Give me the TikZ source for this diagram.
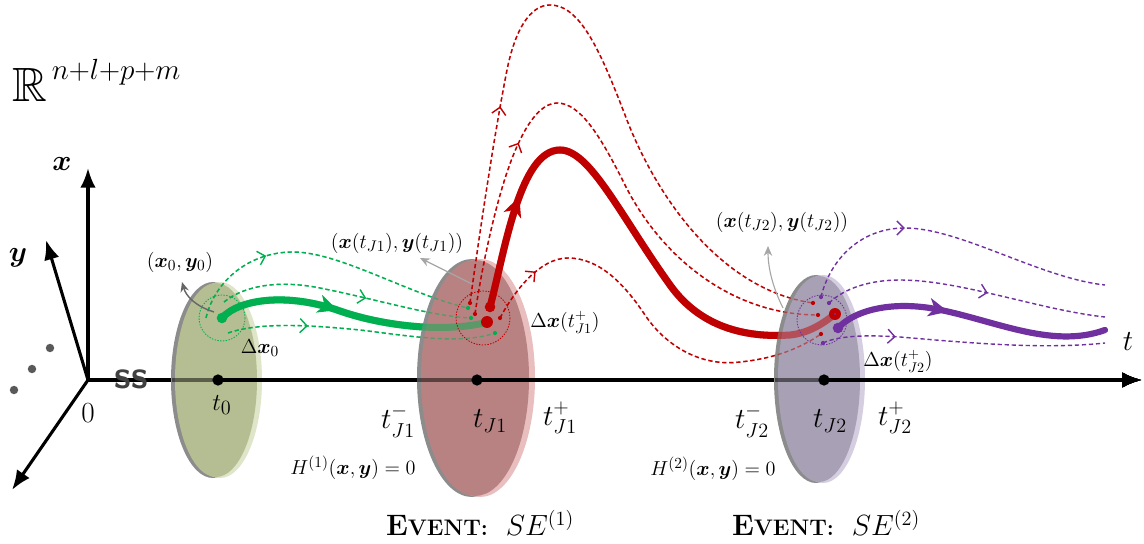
\documentclass[tikz,border=0pt]{standalone}
\usepackage{amsmath,amssymb,bm,graphicx}
\usetikzlibrary{arrows.meta,decorations.markings}
\definecolor{cgreen}{RGB}{0,176,80}
\definecolor{cred}{RGB}{192,0,0}
\definecolor{cpurple}{RGB}{112,48,160}
\definecolor{edgegray}{RGB}{140,140,140}
\definecolor{gMain}{RGB}{181,190,146}
\definecolor{gLight}{RGB}{222,229,200}
\definecolor{rMain}{RGB}{185,130,130}
\definecolor{rLight}{RGB}{232,190,190}
\definecolor{pMain}{RGB}{168,160,180}
\definecolor{pLight}{RGB}{212,206,224}
% trajectory paths (reused for the faded pass behind each disc)
\newcommand\PathGthick{(g0) .. controls (240,298) and (290,293) .. (340,311) .. controls (380,325) and (440,333) .. (484,323)}
\newcommand\PathGa{(206,318) .. controls (215,280) and (250,252) .. (293,252) .. controls (340,252) and (410,295) .. (gA)}
\newcommand\PathGb{(224,302) .. controls (245,285) and (280,280) .. (320,288) .. controls (380,300) and (430,316) .. (gB)}
\newcommand\PathGc{(228,333) .. controls (260,322) and (310,325) .. (360,330) .. controls (410,336) and (460,345) .. (gC)}
\newcommand\PathRthick{(rS) .. controls (505,250) and (520,150) .. (560,150) .. controls (590,150) and (620,215) .. (670,285) .. controls (700,327) and (745,338) .. (790,335) .. controls (810,333) and (825,322) .. (rE)}
\newcommand\PathRa{(rA) .. controls (480,230) and (495,130) .. (507,70) .. controls (515,30) and (530,5) .. (550,5) .. controls (580,5) and (600,50) .. (625,115) .. controls (655,195) and (720,290) .. (rA2)}
\newcommand\PathRb{(rB) .. controls (483,260) and (500,180) .. (520,140) .. controls (532,115) and (545,103) .. (557,103) .. controls (580,103) and (600,135) .. (625,185) .. controls (660,255) and (730,315) .. (rB2)}
\newcommand\PathRc{(rC) .. controls (515,290) and (540,258) .. (568,258) .. controls (600,258) and (625,285) .. (645,315) .. controls (665,345) and (700,367) .. (740,362) .. controls (780,358) and (805,345) .. (rC2)}
\begin{document}
\begin{tikzpicture}[x=0.025cm,y=-0.025cm,
  axisarrow/.style={line width=2.2pt,-{Latex[length=14pt,width=11pt]}},
  taxis/.style={line width=2.2pt,-{Latex[length=14pt,width=11pt]}},
  axfade/.style={line width=2.2pt,opacity=0.5},
  thick traj/.style={line width=5pt,line cap=round},
  dtraj/.style={line width=1pt,dash pattern=on 3pt off 2pt},
  faded/.style={opacity=0.5},
  midarrow/.style={postaction={decorate},decoration={markings,mark=at position #1 with {\arrow{Stealth[length=14pt,width=13pt,inset=4pt]}}}},
  dmid/.style={postaction={decorate},decoration={markings,mark=at position #1 with {\arrow{Straight Barb[length=5pt,width=10pt]}}}},
  dotcircle/.style={line width=0.6pt,dash pattern=on 1pt off 1pt},
  bigdot/.style={circle,fill,inner sep=0pt,minimum size=8.5pt},
  startdot/.style={circle,fill,inner sep=0pt,minimum size=7.5pt},
  smalldot/.style={circle,fill,inner sep=0pt,minimum size=3pt},
  axdot/.style={circle,fill=black,inner sep=0pt,minimum size=8pt},
  gdot/.style={circle,fill=black!65,inner sep=0pt,minimum size=6pt},
  ptrD/.style={black!60,line width=1pt,-{Stealth[length=7pt,width=6pt]}},
  ptrL/.style={black!35,line width=0.8pt,-{Stealth[length=7pt,width=6pt]}},
  medlab/.style={font=\fontsize{15}{18}\selectfont,inner sep=0pt},
  smlab/.style={font=\fontsize{14}{17}\selectfont,inner sep=0pt},
  biglab/.style={font=\fontsize{21}{25}\selectfont,inner sep=0pt},
  evlab/.style={font=\fontsize{21}{25}\selectfont,inner sep=0pt},
  sbreak/.style={font=\fontsize{28}{28}\selectfont\sffamily\bfseries,text=black!75,inner sep=0pt}
]
\useasboundingbox (0,0) rectangle (1144,544);

% ---------- axes ----------
\coordinate (O) at (88,380);
\coordinate (xT) at (88,168);
\coordinate (yT) at (46,240);
\coordinate (zT) at (12,490);
\coordinate (tT) at (1142,380);
\coordinate (t0) at (218,380);
\coordinate (tJ1) at (477,380);
\coordinate (tJ2) at (824,380);
\coordinate (e1) at (172,380);
\coordinate (e2) at (417,380);
\coordinate (e3) at (775,380);
\draw[axisarrow] (O) -- (xT);
\draw[axisarrow] (O) -- (yT);
\draw[axisarrow] (O) -- (zT);
\draw[taxis] (O) -- (tT);
\node[gdot] (dA) at (50,348) {};
\node[gdot] (dB) at (32,369) {};
\node[gdot] (dC) at (14,390) {};

\node[inner sep=0pt,anchor=west,font=\fontsize{29}{32}\selectfont] (Rlab) at (12,80) {$\scalebox{1.18}{$\mathbb{R}$}^{\,n+l+p+m}$};
\node[inner sep=0pt,font=\fontsize{22}{26}\selectfont] (xlab) at (62,164) {$\bm{x}$};
\node[inner sep=0pt,font=\fontsize{22}{26}\selectfont] (ylab) at (18,258) {$\bm{y}$};
\node[inner sep=0pt,font=\fontsize{21}{25}\selectfont] (zero) at (88,413) {$0$};
\node[inner sep=0pt,font=\fontsize{21}{25}\selectfont] (tlab) at (1128,342) {$t$};

% ---------- disk 1 ----------
\fill[edgegray] (213,380) ellipse [x radius=42,y radius=98];
\fill[gLight] (220,380) ellipse [x radius=42,y radius=98];
\fill[gMain] (216,380) ellipse [x radius=41,y radius=97];
\draw[axfade] (e1) -- (t0);
\draw[taxis] (t0) -- (tT);

% ---------- green trajectories ----------
\coordinate (g0) at (222,318);
\coordinate (gA) at (468,308);
\coordinate (gB) at (471,318);
\coordinate (gC) at (495,333);
\draw[cgreen,dotcircle] (g0) circle [radius=23];
\draw[cgreen,dtraj,dmid=0.3] \PathGa;
\draw[cgreen,dtraj,dmid=0.58] \PathGb;
\draw[cgreen,dtraj,dmid=0.3] \PathGc;
\draw[cgreen,thick traj,midarrow=0.45] \PathGthick;

% ---------- disk 2 ----------
\fill[edgegray] (472,378) ellipse [x radius=55,y radius=119];
\fill[rLight] (480,378) ellipse [x radius=55,y radius=119];
\fill[rMain] (475,378) ellipse [x radius=54,y radius=118];
\draw[axfade] (e2) -- (tJ1);
\draw[taxis] (tJ1) -- (tT);
\begin{scope}[faded]
\draw[cgreen,dtraj] \PathGa;
\draw[cgreen,dtraj] \PathGb;
\draw[cgreen,dtraj] \PathGc;
\draw[cgreen,thick traj] \PathGthick;
\end{scope}

% ---------- red trajectories ----------
\coordinate (rS) at (490,307);
\coordinate (rD) at (487,322);
\coordinate (rA) at (470,303);
\coordinate (rB) at (475,314);
\coordinate (rC) at (500,318);
\coordinate (rA2) at (813,303);
\coordinate (rB2) at (818,315);
\coordinate (rC2) at (821,334);
\coordinate (rE) at (835,314);
\draw[cred,dotcircle] (483,318) circle [radius=27];
\draw[cred,dtraj,dmid=0.27] \PathRa;
\draw[cred,dtraj,dmid=0.3] \PathRb;
\draw[cred,dtraj,dmid=0.15] \PathRc;
\draw[cred,thick traj,midarrow=0.21] \PathRthick;

% ---------- disk 3 ----------
\fill[edgegray] (816,379) ellipse [x radius=42,y radius=104];
\fill[pLight] (823,379) ellipse [x radius=42,y radius=104];
\fill[pMain] (819,379) ellipse [x radius=41,y radius=103];
\draw[axfade] (e3) -- (tJ2);
\draw[taxis] (tJ2) -- (tT);
\begin{scope}[faded]
\draw[cred,dtraj] \PathRa;
\draw[cred,dtraj] \PathRb;
\draw[cred,dtraj] \PathRc;
\draw[cred,thick traj] \PathRthick;
\end{scope}

% ---------- purple trajectories ----------
\coordinate (pA) at (821,297);
\coordinate (pB) at (829,303);
\coordinate (pC) at (823,343);
\coordinate (pS) at (838,328);
\draw[cpurple,dotcircle] (822,320) circle [radius=25];
\draw[cpurple,dtraj,dmid=0.36] (pA) .. controls (830,260) and (860,228) .. (905,228) .. controls (960,228) and (1040,278) .. (1105,285);
\draw[cpurple,dtraj,dmid=0.58] (pB) .. controls (845,288) and (870,280) .. (900,280) .. controls (960,280) and (1040,310) .. (1105,317);
\draw[cpurple,dtraj,dmid=0.26] (pC) .. controls (840,335) and (870,335) .. (900,337) .. controls (960,342) and (1040,350) .. (1105,343);
\draw[cpurple,line width=4.4pt,line cap=round,midarrow=0.42] (pS) .. controls (855,310) and (890,302) .. (930,308) .. controls (990,318) and (1050,350) .. (1105,330);

% ---------- dots on top ----------
\node[cgreen,startdot] (g0dot) at (g0) {};
\node[axdot] (t0dot) at (t0) {};
\node[axdot] (tJ1dot) at (tJ1) {};
\node[axdot] (tJ2dot) at (tJ2) {};
\node[cgreen,smalldot] (gAd) at (gA) {};
\node[cgreen,smalldot] (gBd) at (gB) {};
\node[cgreen,smalldot] (gCd) at (gC) {};
\node[cred,smalldot] (rAd) at (rA) {};
\node[cred,smalldot] (rBd) at (rB) {};
\node[cred,smalldot] (rCd) at (rC) {};
\node[cred,startdot] (rSd) at (rS) {};
\node[cred,bigdot] (rDd) at (rD) {};
\node[cred,smalldot] (rA2d) at (rA2) {};
\node[cred,smalldot] (rB2d) at (rB2) {};
\node[cred,smalldot] (rC2d) at (rC2) {};
\node[cpurple,smalldot] (pAd) at (pA) {};
\node[cpurple,smalldot] (pBd) at (pB) {};
\node[cpurple,smalldot] (pCd) at (pC) {};
\node[cred,bigdot] (rEd) at (rE) {};
\node[cpurple,circle,fill,inner sep=0pt,minimum size=1.5pt] (rEc) at (rE) {};
\node[cpurple,startdot] (pSd) at (pS) {};
\node[sbreak] (brk) at (131,379) {ss};

% ---------- pointer arrows ----------
\coordinate (p0s) at (214,312);
\coordinate (p0t) at (182,282);
\draw[ptrD] (p0s) .. controls (195,306) and (186,296) .. (p0t);
\coordinate (p1s) at (472,284);
\coordinate (p1t) at (420,258);
\draw[ptrL] (p1s) -- (p1t);
\coordinate (p2s) at (783,308);
\coordinate (p2t) at (768,246);
\draw[ptrL] (p2s) .. controls (774,290) and (768,270) .. (p2t);

% ---------- labels ----------
\node[medlab] (l0) at (180,262) {$(\bm{x}_0,\bm{y}_0)$};
\node[medlab] (dx0) at (260,348) {$\Delta\bm{x}_0$};
\node[medlab] (lJ1) at (397,243) {$(\bm{x}(t_{J1}),\bm{y}(t_{J1}))$};
\node[smlab] (dxJ1) at (565,322) {$\Delta\bm{x}(t_{J1}^{+})$};
\node[medlab] (lJ2) at (782,222) {$(\bm{x}(t_{J2}),\bm{y}(t_{J2}))$};
\node[smlab] (dxJ2) at (898,361) {$\Delta\bm{x}(t_{J2}^{+})$};

\node[inner sep=0pt,font=\fontsize{19}{23}\selectfont] (lt0) at (222,405) {$t_0$};
\node[biglab] (lJ1m) at (398,421) {$t^{-}_{J1}$};
\node[biglab] (lJ1c) at (490,421) {$t_{J1}$};
\node[biglab] (lJ1p) at (560,418) {$t^{+}_{J1}$};
\node[biglab] (lJ2m) at (752,421) {$t^{-}_{J2}$};
\node[biglab] (lJ2c) at (830,421) {$t_{J2}$};
\node[biglab] (lJ2p) at (895,418) {$t^{+}_{J2}$};

\node[medlab] (H1) at (353,468) {$H^{(1)}(\bm{x},\bm{y})=0$};
\node[medlab] (H2) at (713,469) {$H^{(2)}(\bm{x},\bm{y})=0$};

\node[evlab] (ev1) at (480,523) {{\bfseries E{\fontsize{16}{18}\selectfont VENT:}}\ \ $SE^{(1)}$};
\node[evlab] (ev2) at (826,523) {{\bfseries E{\fontsize{16}{18}\selectfont VENT:}}\ \ $SE^{(2)}$};
\end{tikzpicture}
\end{document}
